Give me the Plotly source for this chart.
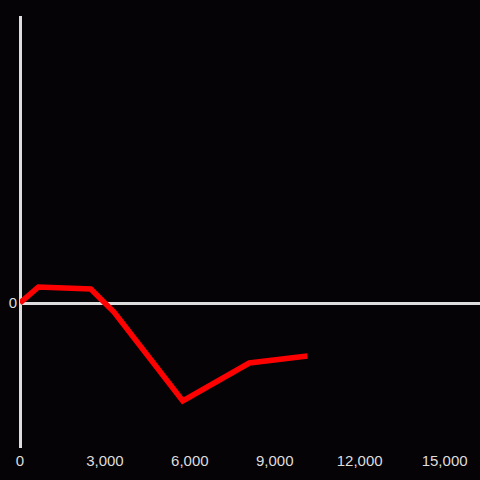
import plotly.graph_objects as go

# data (y in arbitrary units; only 0 is labelled)
x_vals = [0, 650, 2500, 3320, 5750, 8100, 10150]
y_vals = [0, 16, 14, -9, -98, -60, -53]
x_ticks = [0, 3000, 6000, 9000, 12000, 15000]
x_tick_labels = ["0", "3,000", "6,000", "9,000", "12,000", "15,000"]
y_ticks = [0]
y_tick_labels = ["0"]

bg = "#050306"
axis_col = "#dddddd"

fig = go.Figure()
fig.add_trace(go.Scatter(
    x=x_vals, y=y_vals, mode="lines",
    line=dict(color="#ff0000", width=5.5),
    hoverinfo="skip", showlegend=False,
))

fig.update_layout(
    width=480, height=480,
    paper_bgcolor=bg, plot_bgcolor=bg,
    margin=dict(l=20, r=0, t=16, b=32),
    font=dict(family="Liberation Sans, Arial, sans-serif", size=15, color=axis_col),
    xaxis=dict(
        range=[0, 16250],
        tickvals=x_ticks, ticktext=x_tick_labels,
        showgrid=False, showline=False,
        zeroline=True, zerolinecolor=axis_col, zerolinewidth=3,
        ticks="", ticklabelstandoff=2,
        tickfont=dict(size=15, color=axis_col),
    ),
    yaxis=dict(
        range=[-145, 287],
        tickvals=y_ticks, ticktext=y_tick_labels,
        showgrid=False, showline=False,
        zeroline=True, zerolinecolor=axis_col, zerolinewidth=3,
        ticks="", ticklabelstandoff=2,
        tickfont=dict(size=15, color=axis_col),
    ),
)

fig.write_html(
    "out.html",
    config={"displayModeBar": False},
    post_script="document.body.style.margin='0';document.body.style.background='#050306';",
)
